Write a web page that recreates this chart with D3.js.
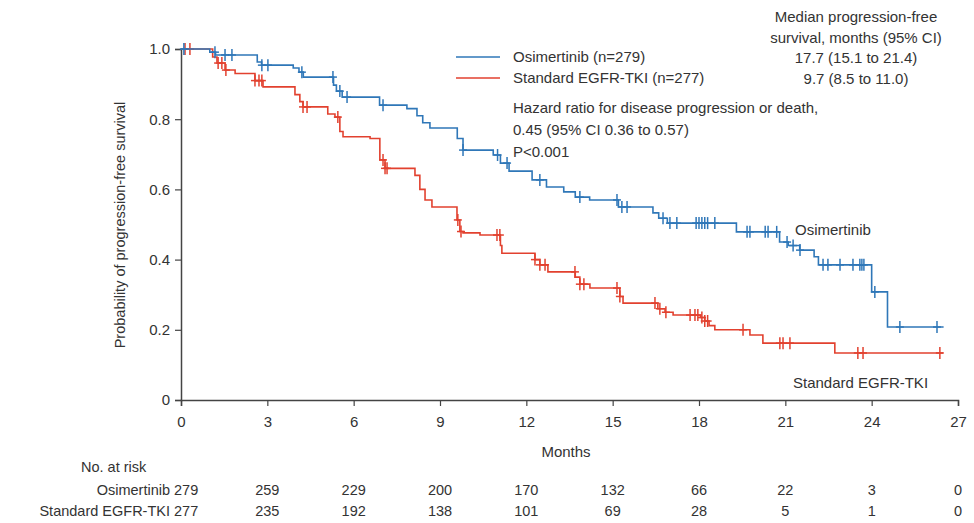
<!DOCTYPE html>
<html><head><meta charset="utf-8">
<script src="https://cdn.jsdelivr.net/npm/d3@7"></script>
<style>body{margin:0;background:#fff;} text{font-family:"Liberation Sans",Arial,sans-serif;fill:#333;}</style>
</head><body>
<svg id="c" width="974" height="523"></svg>
<script>
// ---- data ----
const xTicks = [0,3,6,9,12,15,18,21,24,27];
const yTicks = [0,0.2,0.4,0.6,0.8,1.0];
const osiTimes = [0,1.0,1.2,2.65,2.8,3.9,4.1,4.25,5.3,5.4,5.6,6.9,7.85,8.2,8.4,8.65,9.6,9.8,10.85,11.1,11.4,12.2,12.7,13.3,13.7,14.2,15.2,16.4,16.6,16.9,19.3,20.8,21.1,21.5,22.0,22.15,24.0,24.55];
const osiSurv  = [1,0.991,0.983,0.963,0.954,0.946,0.934,0.92,0.897,0.88,0.863,0.84,0.83,0.81,0.79,0.775,0.745,0.712,0.698,0.675,0.652,0.627,0.607,0.593,0.578,0.57,0.55,0.533,0.518,0.504,0.479,0.45,0.44,0.427,0.408,0.385,0.308,0.208];
const osiEnd = 26.5;
const osiCensor = [0.1,1.18,1.53,1.77,2.81,3.02,4.2,5.28,5.52,5.77,7.02,9.8,11.0,11.33,12.47,13.86,15.15,15.32,15.5,16.75,16.99,17.23,17.9,18.0,18.1,18.2,18.3,18.55,19.67,19.77,20.3,20.4,20.7,21.06,21.27,21.51,22.31,22.48,22.9,23.35,23.59,23.66,23.73,24.11,24.98,26.27];
const tkiTimes = [0,1.1,1.25,1.53,1.88,2.57,2.85,3.96,4.13,4.24,5.1,5.35,5.52,5.63,6.57,6.91,7.09,8.13,8.3,8.48,8.72,9.59,9.69,9.8,10.39,11.1,11.15,12.3,12.47,12.75,13.7,13.86,14.21,15.25,15.36,16.57,16.82,17.1,18.05,18.2,18.35,18.55,19.77,20.22,22.72];
const tkiSurv  = [1,0.977,0.96,0.94,0.93,0.91,0.892,0.87,0.85,0.835,0.815,0.806,0.765,0.75,0.745,0.684,0.66,0.64,0.60,0.57,0.55,0.513,0.48,0.476,0.47,0.44,0.418,0.40,0.385,0.365,0.35,0.33,0.319,0.295,0.276,0.26,0.25,0.242,0.235,0.225,0.212,0.2,0.185,0.162,0.134];
const tkiEnd = 26.48;
const tkiCensor = [0.14,0.31,1.29,1.42,1.56,2.57,2.71,2.81,4.24,4.38,5.45,7.02,7.09,7.16,9.62,9.73,10.98,11.08,12.3,12.47,12.65,13.69,13.86,14.0,15.15,15.25,16.47,16.64,16.85,17.69,17.86,17.96,18.1,18.2,18.3,19.53,20.81,20.92,21.16,23.52,23.7,26.37];
const riskOsi = [279,259,229,200,170,132,66,22,3,0];
const riskTki = [277,235,192,138,101,69,28,5,1,0];
const names = ["Osimertinib","Standard EGFR-TKI"];
const colors = ["#2f77b8","#e2412f"];

// ---- layout ----
const svg = d3.select("#c");
const x = d3.scaleLinear().domain([0,27]).range([181,958]);
const y = d3.scaleLinear().domain([0,1]).range([400,49]);
const axisCol = "#444";

// axes
const gx = svg.append("g").attr("transform","translate(0,400)")
  .call(d3.axisBottom(x).tickValues(xTicks).tickSize(6).tickPadding(10).tickFormat(d3.format("d")));
const gy = svg.append("g").attr("transform","translate(181,0)")
  .call(d3.axisLeft(y).tickValues(yTicks).tickSize(6).tickPadding(5).tickFormat(d=>d===0?"0":d3.format(".1f")(d)));
[gx,gy].forEach(g=>{
  g.select(".domain").attr("stroke",axisCol).attr("stroke-width",1.5);
  g.selectAll(".tick line").attr("stroke",axisCol).attr("stroke-width",1.2);
  g.selectAll(".tick text").attr("font-size",15).attr("fill","#333").style("font-family","'Liberation Sans',Arial,sans-serif");
});

svg.append("text").attr("transform","translate(125,225) rotate(-90)").attr("text-anchor","middle")
  .attr("font-size",14.5).text("Probability of progression-free survival");
svg.append("text").attr("x",566).attr("y",457).attr("text-anchor","middle").attr("font-size",15).text("Months");

// curves
function stepFn(times, surv){ return t=>{ let s=1; for(let i=0;i<times.length;i++){ if(times[i]<=t) s=surv[i]; } return s; }; }
const line = d3.line().x(d=>x(d[0])).y(d=>y(d[1])).curve(d3.curveStepAfter);
const series = [
  {times:osiTimes,surv:osiSurv,end:osiEnd,cens:osiCensor,col:colors[0]},
  {times:tkiTimes,surv:tkiSurv,end:tkiEnd,cens:tkiCensor,col:colors[1]}
];
series.slice().reverse().forEach(s=>{
  const pts = s.times.map((t,i)=>[t,s.surv[i]]);
  pts.push([s.end, s.surv[s.surv.length-1]]);
  svg.append("path").attr("d",line(pts)).attr("fill","none").attr("stroke",s.col).attr("stroke-width",1.6);
  const f = stepFn(s.times,s.surv);
  const g = svg.append("g").attr("stroke",s.col).attr("stroke-width",1.5);
  s.cens.forEach(t=>{
    const cx=x(t), cy=y(f(t));
    g.append("line").attr("x1",cx).attr("x2",cx).attr("y1",cy-6).attr("y2",cy+6);
    g.append("line").attr("x1",cx-4).attr("x2",cx+4).attr("y1",cy).attr("y2",cy);
  });
});

// curve labels
svg.append("text").attr("x",795).attr("y",235).attr("font-size",15).text(names[0]);
svg.append("text").attr("x",793).attr("y",388).attr("font-size",15).text(names[1]);

// legend
const legN = [279,277];
names.forEach((n,i)=>{
  const ly = 57 + i*21;
  svg.append("line").attr("x1",456).attr("x2",500).attr("y1",ly).attr("y2",ly).attr("stroke",colors[i]).attr("stroke-width",1.5);
  svg.append("text").attr("x",513).attr("y",ly+5).attr("font-size",15).text(`${n} (n=${legN[i]})`);
});
const medLines = ["Median progression-free","survival, months (95% CI)","17.7 (15.1 to 21.4)","9.7 (8.5 to 11.0)"];
medLines.forEach((t,i)=>svg.append("text").attr("x",856).attr("y",22+i*20.5).attr("text-anchor","middle").attr("font-size",15).text(t));
const hrLines = ["Hazard ratio for disease progression or death,","0.45 (95% CI 0.36 to 0.57)","P<0.001"];
hrLines.forEach((t,i)=>svg.append("text").attr("x",513).attr("y",113+i*22).attr("font-size",15).text(t));

// risk table
svg.append("text").attr("x",81).attr("y",472).attr("font-size",14.5).text("No. at risk");
[riskOsi,riskTki].forEach((arr,r)=>{
  const ry = 495 + r*21;
  svg.append("text").attr("x",170).attr("y",ry).attr("text-anchor","end").attr("font-size",14.5).text(names[r]);
  arr.forEach((v,i)=>{
    if(i===0){
      svg.append("text").attr("x",174).attr("y",ry).attr("text-anchor","start").attr("font-size",14.5).text(v);
    } else {
      svg.append("text").attr("x",x(xTicks[i])).attr("y",ry).attr("text-anchor","middle").attr("font-size",14.5).text(v);
    }
  });
});
</script>
</body></html>
